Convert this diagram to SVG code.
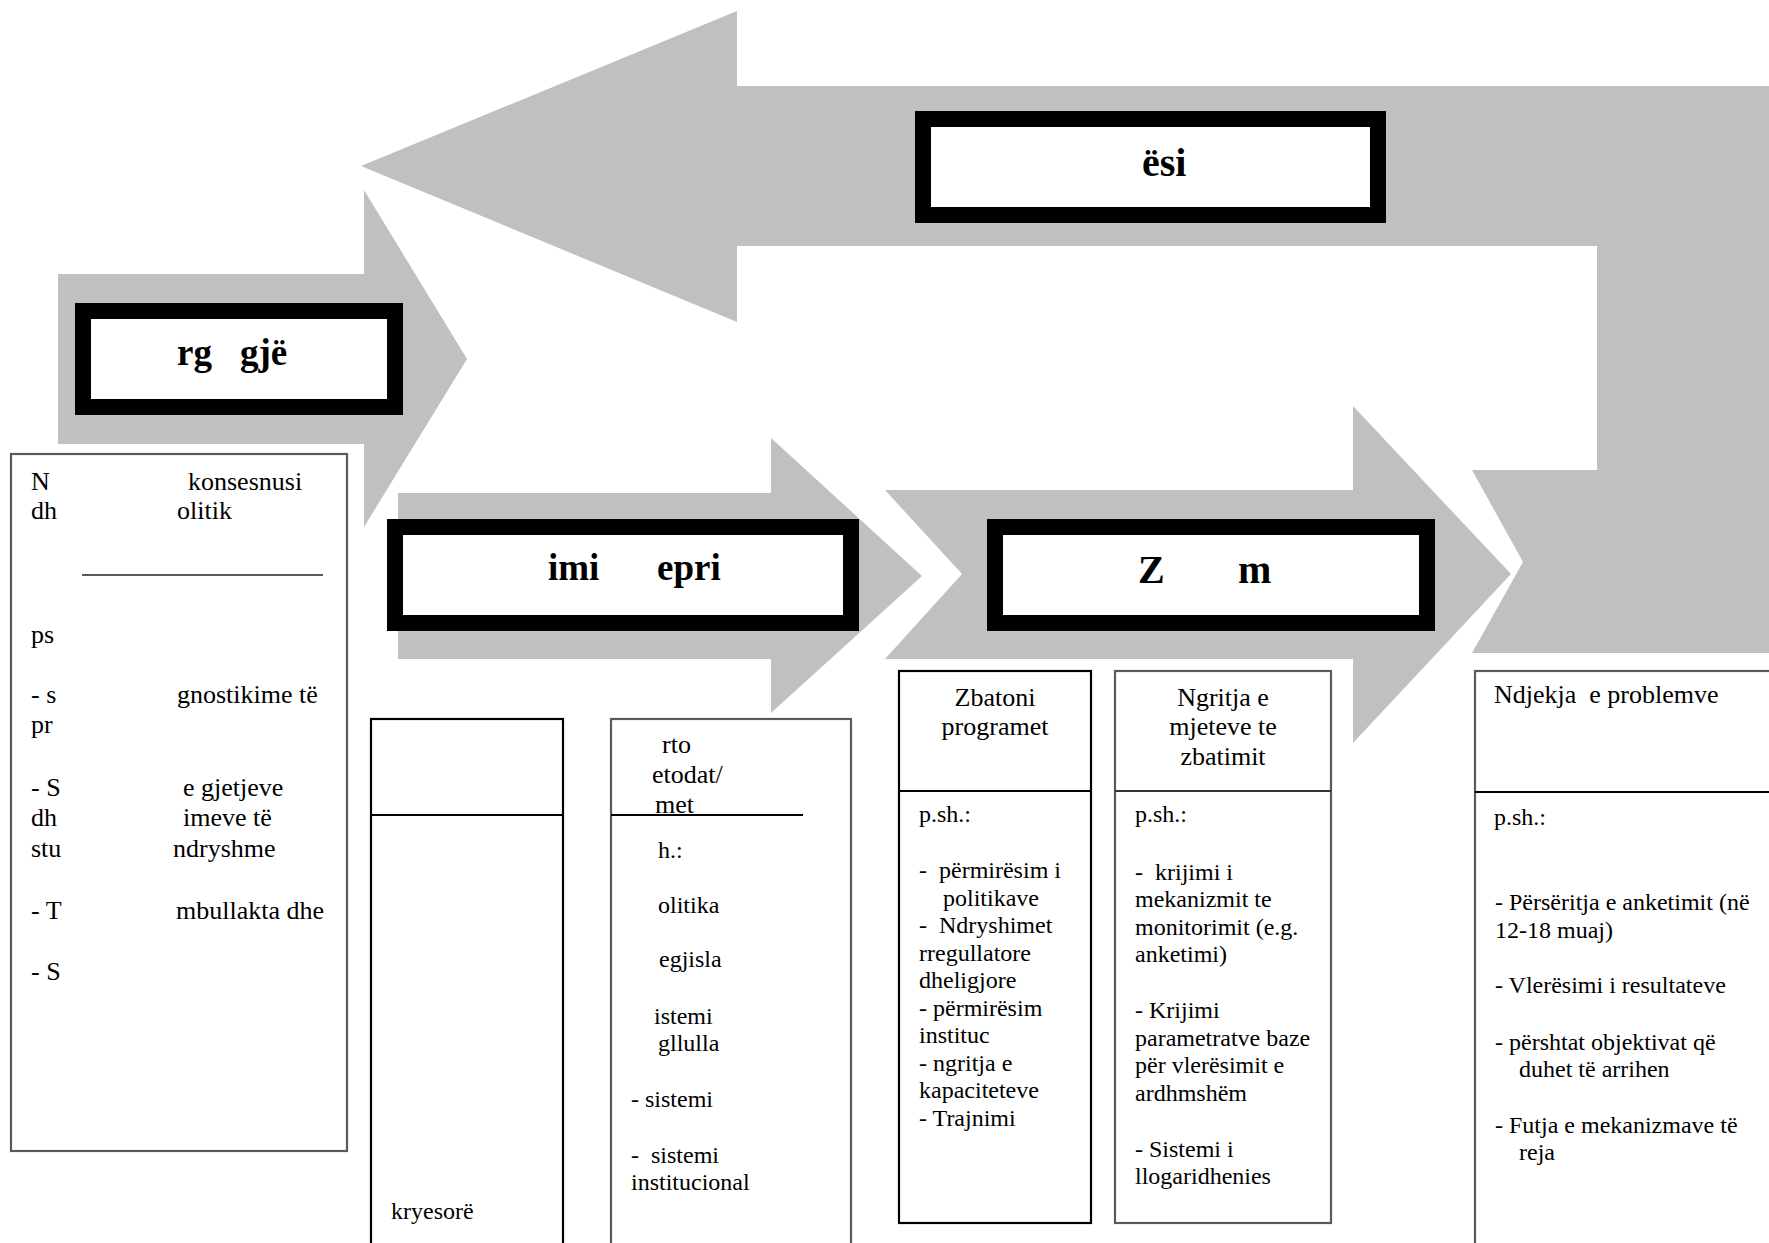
<svg xmlns="http://www.w3.org/2000/svg" width="1769" height="1243" viewBox="0 0 1769 1243">
<style>
.arrow{fill:#c0c0c0;stroke:none}
.title{fill:#fff;stroke:#000;stroke-width:16}
.tt{font-family:"Liberation Serif","Times New Roman",serif;font-weight:bold;fill:#000}
.t26{font-family:"Liberation Serif","Times New Roman",serif;font-size:26px;fill:#000;white-space:pre}
.t24{font-family:"Liberation Serif","Times New Roman",serif;font-size:24px;fill:#000;white-space:pre}
.bk{fill:#fff;stroke:#000;stroke-width:2.2}
.gr{fill:#fff;stroke:#5a5a5a;stroke-width:2.2}
.c{text-anchor:middle}
</style>
<rect width="1769" height="1243" fill="#fff"/>
<g id="connectors">
<polygon class="arrow" points="361,166 737,11 737,86 1769,86 1769,653 1472,653 1523,562 1472,470 1597,470 1597,246 737,246 737,322"/>
<polygon class="arrow" points="58,274 364,274 364,190 467,359 364,527 364,444 58,444"/>
<polygon class="arrow" points="398,493 771,493 771,438 922,576 771,713 771,659 398,659"/>
<polygon class="arrow" points="885,490 1353,490 1353,406 1511,574 1353,743 1353,659 885,659 962,574"/>
</g>
<g id="title-esi">
<rect class="title" x="923" y="119" width="455" height="96"/>
<text class="tt" x="1142" y="176" font-size="40">ësi</text>
</g>
<g id="title-rggje">
<rect class="title" x="83" y="311" width="312" height="96"/>
<text class="tt" x="177" y="365" font-size="37">rg</text>
<text class="tt" x="240" y="365" font-size="37">gjë</text>
</g>
<g id="title-imiepri">
<rect class="title" x="395" y="527" width="456" height="96"/>
<text class="tt" x="548" y="580" font-size="37">imi</text>
<text class="tt" x="657" y="580" font-size="37">epri</text>
</g>
<g id="title-zm">
<rect class="title" x="995" y="527" width="432" height="96"/>
<text class="tt" x="1138" y="583" font-size="40">Z</text>
<text class="tt" x="1238" y="583" font-size="40">m</text>
</g>
<g id="box-left">
<rect class="gr" x="11" y="454" width="336" height="697"/>
<line x1="82" y1="575" x2="323" y2="575" stroke="#5a5a5a" stroke-width="2"/>
<text class="t26" x="31" y="490">N</text><text class="t26" x="188" y="490">konsesnusi</text>
<text class="t26" x="31" y="519">dh</text><text class="t26" x="177" y="519">olitik</text>
<text class="t26" x="31" y="643">ps</text>
<text class="t26" x="31" y="703">- s</text><text class="t26" x="177" y="703">gnostikime të</text>
<text class="t26" x="31" y="733">pr</text>
<text class="t26" x="31" y="796">- S</text><text class="t26" x="183" y="796">e gjetjeve</text>
<text class="t26" x="31" y="826">dh</text><text class="t26" x="183" y="826">imeve të</text>
<text class="t26" x="31" y="857">stu</text><text class="t26" x="173" y="857">ndryshme</text>
<text class="t26" x="31" y="919">- T</text><text class="t26" x="176" y="919">mbullakta dhe</text>
<text class="t26" x="31" y="980">- S</text>
</g>
<g id="box-1">
<rect class="bk" x="371" y="719" width="192" height="540"/>
<line x1="371" y1="815" x2="563" y2="815" stroke="#000" stroke-width="2.2"/>
<text class="t24" x="391" y="1219">kryesorë</text>
</g>
<g id="box-2">
<rect class="gr" x="611" y="719" width="240" height="540"/>
<line x1="611" y1="815" x2="803" y2="815" stroke="#000" stroke-width="2.2"/>
<text class="t26" x="662" y="753">rto</text>
<text class="t26" x="652" y="783">etodat/</text>
<text class="t26" x="655" y="813">met</text>
<text class="t24" x="658" y="858">h.:</text>
<text class="t24" x="658" y="913">olitika</text>
<text class="t24" x="659" y="967">egjisla</text>
<text class="t24" x="654" y="1024">istemi</text>
<text class="t24" x="658" y="1051">gllulla</text>
<text class="t24" x="631" y="1107">- sistemi</text>
<text class="t24" x="631" y="1163">-  sistemi</text>
<text class="t24" x="631" y="1190">institucional</text>
</g>
<g id="box-zbatoni">
<rect class="bk" x="899" y="671" width="192" height="552"/>
<line x1="899" y1="791" x2="1091" y2="791" stroke="#000" stroke-width="2"/>
<text class="t26 c" x="995" y="706">Zbatoni</text>
<text class="t26 c" x="995" y="735">programet</text>
<text class="t24" x="919" y="822">p.sh.:</text>
<text class="t24" x="919" y="878">-  përmirësim i</text>
<text class="t24" x="943" y="906">politikave</text>
<text class="t24" x="919" y="933">-  Ndryshimet</text>
<text class="t24" x="919" y="961">rregullatore</text>
<text class="t24" x="919" y="988">dheligjore</text>
<text class="t24" x="919" y="1016">- përmirësim</text>
<text class="t24" x="919" y="1043">instituc</text>
<text class="t24" x="919" y="1071">- ngritja e</text>
<text class="t24" x="919" y="1098">kapaciteteve</text>
<text class="t24" x="919" y="1126">- Trajnimi</text>
</g>
<g id="box-ngritja">
<rect class="gr" x="1115" y="671" width="216" height="552"/>
<line x1="1115" y1="791" x2="1331" y2="791" stroke="#333" stroke-width="2"/>
<text class="t26 c" x="1223" y="706">Ngritja e</text>
<text class="t26 c" x="1223" y="735">mjeteve te</text>
<text class="t26 c" x="1223" y="765">zbatimit</text>
<text class="t24" x="1135" y="822">p.sh.:</text>
<text class="t24" x="1135" y="880">-  krijimi i</text>
<text class="t24" x="1135" y="907">mekanizmit te</text>
<text class="t24" x="1135" y="935">monitorimit (e.g.</text>
<text class="t24" x="1135" y="962">anketimi)</text>
<text class="t24" x="1135" y="1018">- Krijimi</text>
<text class="t24" x="1135" y="1046">parametratve baze</text>
<text class="t24" x="1135" y="1073">për vlerësimit e</text>
<text class="t24" x="1135" y="1101">ardhmshëm</text>
<text class="t24" x="1135" y="1157">- Sistemi i</text>
<text class="t24" x="1135" y="1184">llogaridhenies</text>
</g>
<g id="box-ndjekja">
<rect class="gr" x="1475" y="671" width="320" height="600"/>
<line x1="1475" y1="792" x2="1775" y2="792" stroke="#000" stroke-width="2"/>
<text class="t26" x="1494" y="703">Ndjekja  e problemve</text>
<text class="t24" x="1494" y="825">p.sh.:</text>
<text class="t24" x="1495" y="910">- Përsëritja e anketimit (në</text>
<text class="t24" x="1495" y="938">12-18 muaj)</text>
<text class="t24" x="1495" y="993">- Vlerësimi i resultateve</text>
<text class="t24" x="1495" y="1050">- përshtat objektivat që</text>
<text class="t24" x="1519" y="1077">duhet të arrihen</text>
<text class="t24" x="1495" y="1133">- Futja e mekanizmave të</text>
<text class="t24" x="1519" y="1160">reja</text>
</g>
</svg>
